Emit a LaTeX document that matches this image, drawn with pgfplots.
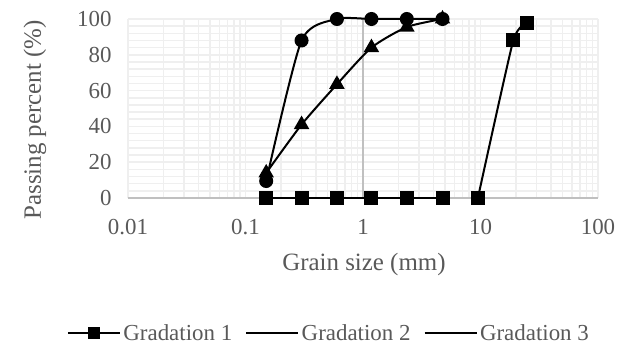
\documentclass[border=0pt]{standalone}
\usepackage{pgfplots}
\pgfplotsset{compat=1.18}
\usepackage{fontspec}
\setmainfont{Liberation Serif}
\definecolor{txt}{HTML}{595959}
\definecolor{gridc}{HTML}{EFEFEF}
\definecolor{axc}{HTML}{C0C0C0}
\begin{document}
\begin{tikzpicture}[x=1bp,y=1bp]
\path[use as bounding box] (0,0) rectangle (637,345);
\begin{axis}[
 at={(128bp,147bp)}, anchor=south west,
 scale only axis, width=470bp, height=179bp,
 xmode=log, xmin=0.01, xmax=100, ymin=0, ymax=100,
 xtick={0.01,0.1,1,10,100}, xticklabels={0.01,0.1,1,10,100},
 ytick={0,20,40,60,80,100}, minor y tick num=4,
 grid=both,
 minor grid style={gridc, line width=1.5bp},
 major grid style={gridc, line width=1.5bp},
 axis line style={draw=none}, tick style={draw=none},
 /pgf/number format/assume math mode=true,
 ticklabel style={font=\fontsize{23}{23}\selectfont, text=txt},
 xticklabel style={anchor=center, yshift=-29bp},
 yticklabel style={anchor=east, xshift=-13bp},
 xlabel={Grain size (mm)}, ylabel={Passing percent (\%)},
 label style={font=\fontsize{25}{25}\selectfont, text=txt},
 xlabel style={at={(axis description cs:0.502,-0.374)}, anchor=center},
 ylabel style={at={(axis description cs:-0.198,0.436)}, anchor=center},
 clip=false,
 legend style={at={(axis description cs:0.428,-0.754)}, anchor=center, draw=none, fill=none,
   legend columns=-1, font=\fontsize{23}{23}\selectfont, text=txt,
   nodes={inner xsep=2.5bp},
   /tikz/every even column/.append style={column sep=10.5bp}},
 legend image code/.code={\draw[mark repeat=2,mark phase=2,#1] plot coordinates {(0bp,0bp) (26bp,0bp) (52bp,0bp)};},
]
\addplot[axc, line width=1.2bp, forget plot] coordinates {(0.01,0) (100,0)};
\addplot[axc, line width=1.2bp, forget plot] coordinates {(1,0) (1,100)};
% Gradation 2 (triangles)
\addplot[black, line width=2bp, smooth, tension=0.4, mark=triangle*, mark size=7bp, forget plot]
 coordinates {(0.15,14) (0.3,41) (0.6,63.5) (1.18,84) (2.36,95.5) (4.75,100)};
% Gradation 3 (circles)
\addplot[black, line width=2bp, smooth, tension=0.4, mark=*, mark size=6bp, forget plot]
 coordinates {(0.15,9.5) (0.3,88) (0.6,100) (1.18,100) (2.36,100) (4.75,100)};
% Gradation 1 (squares)
\addplot[black, line width=2bp, mark=square*, mark size=6bp, forget plot]
 coordinates {(0.15,0) (0.3,0) (0.6,0) (1.18,0) (2.36,0) (4.75,0)};
\addplot[black, line width=2bp, smooth, tension=0.3, mark=square*, mark size=6bp, forget plot]
 coordinates {(9.5,0) (19,88) (25,98)};
\addlegendimage{black, line width=2bp, mark=square*, mark size=5bp}
\addlegendentry{Gradation 1}
\addlegendimage{black, line width=2bp}
\addlegendentry{Gradation 2}
\addlegendimage{black, line width=2bp}
\addlegendentry{Gradation 3}
\end{axis}
\end{tikzpicture}
\end{document}
